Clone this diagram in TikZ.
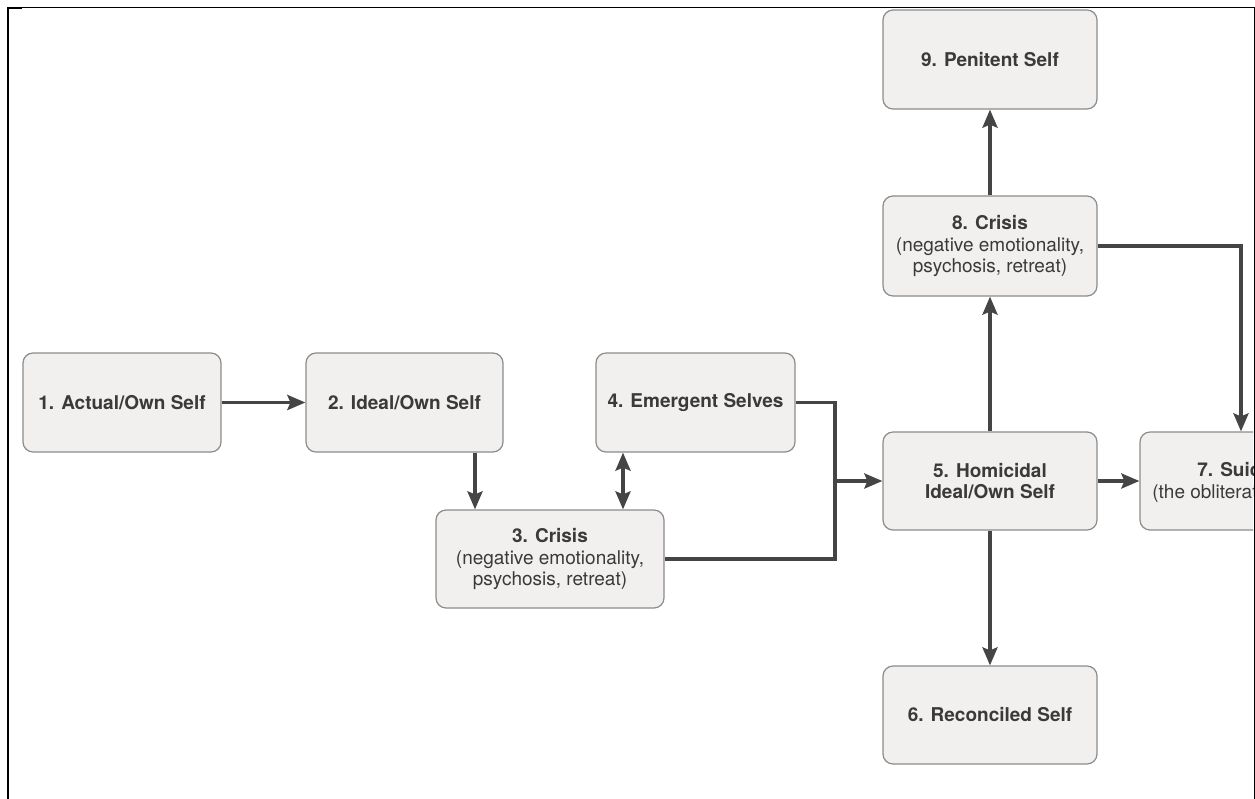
\documentclass[tikz,border=0pt]{standalone}
\usepackage{fontspec}
\setmainfont{TeX Gyre Heros}
\usetikzlibrary{arrows.meta}
\definecolor{boxfill}{HTML}{F1F0EF}
\definecolor{boxline}{HTML}{8C8C8C}
\definecolor{ink}{HTML}{3A3A3A}
\definecolor{wire}{HTML}{454545}
\begin{document}
\begin{tikzpicture}[x=0.5pt,y=-0.5pt,
  stage/.style={draw=boxline, line width=0.6pt, fill=boxfill, rounded corners=5pt,
    text=ink, align=center, inner sep=0pt,
    font=\fontsize{9.5}{10.8}\selectfont},
  tip/.tip={Stealth[length=9pt,width=7.5pt,inset=1.5pt]},
  link/.style={draw=wire, line width=1.75pt, -tip},
  wire/.style={draw=wire, line width=1.75pt},
  frame/.style={draw=black, line width=0.5pt},
]
\useasboundingbox (0,0) rectangle (1255,799);

% page frame
\draw[frame] (8,799) |- (1254,7.5) -- (1254,799);
\draw[black, line width=1.1pt] (8,799) -- (8,7);
\draw[black, line width=1pt] (7,8) -- (22,8);

% stages
\node[stage, minimum width=99pt, minimum height=49.5pt] (n1) at (122,402.5)
  {\bfseries 1. Actual/Own Self};
\node[stage, minimum width=98.5pt, minimum height=49.5pt] (n2) at (404.5,402.5)
  {\bfseries 2. Ideal/Own Self};
\node[stage, minimum width=114pt, minimum height=49pt] (n3) at (550,559)
  {\bfseries 3. Crisis\\(negative emotionality,\\psychosis, retreat)};
\node[stage, minimum width=99.5pt, minimum height=49.5pt] (n4) at (695.5,402.5)
  {\bfseries 4. Emergent Selves};
\node[stage, minimum width=107pt, minimum height=49pt] (n5) at (990,481)
  {\bfseries 5. Homicidal\\\bfseries Ideal/Own Self};
\node[stage, minimum width=107pt, minimum height=49pt] (n6) at (990,715)
  {\bfseries 6. Reconciled Self};
\node[stage, minimum width=107pt, minimum height=50pt] (n8) at (990,246)
  {\bfseries 8. Crisis\\(negative emotionality,\\psychosis, retreat)};
\node[stage, minimum width=107pt, minimum height=49.5pt] (n9) at (990,59.5)
  {\bfseries 9. Penitent Self};

% stage 7 runs past the right edge of the page
\begin{scope}
  \clip (0,0) rectangle (1253,799);
  \node[stage, minimum width=107pt, minimum height=49pt] (n7) at (1247,481) {};
  \node[anchor=base west, text=ink, inner sep=0pt, font=\fontsize{9.5}{10.8}\selectfont\bfseries]
    (t7a) at (1197,476) {7. Suic};
  \node[anchor=base west, text=ink, inner sep=0pt, font=\fontsize{9.5}{10.8}\selectfont]
    (t7b) at (1152,498) {(the obliterat};
\end{scope}

% helper columns for vertical connectors
\coordinate (c23) at (475,0);
\coordinate (c34) at (623,0);
\coordinate (join) at (835,481);
\coordinate (c87) at (1241,0);

% connectors
\draw[link] (n1) -- (n2);
\draw[link] (n2.south -| c23) -- (n3.north -| c23);
\draw[wire, tip-tip] (n4.south -| c34) -- (n3.north -| c34);
\draw[wire] (n4.east) -| (join);
\draw[wire] (n3.east) -| (join);
\draw[link] (join) -- (n5.west);
\draw[link] (n5) -- (n8);
\draw[link] (n8) -- (n9);
\draw[link] (n5) -- (n6);
\draw[link] (n5.east) -- (n7.west);
\draw[link] (n8.east) -| (n7.north -| c87);
\end{tikzpicture}
\end{document}
